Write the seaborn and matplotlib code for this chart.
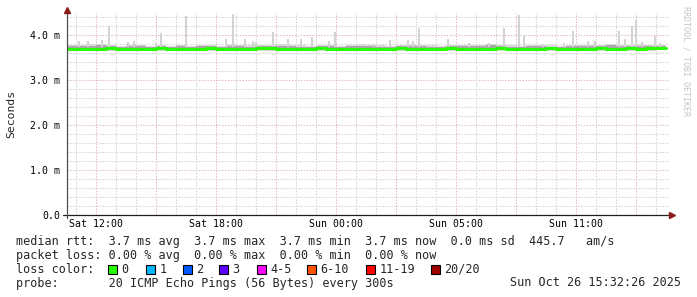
import numpy as np
import pandas as pd
import matplotlib
matplotlib.use("Agg")
import matplotlib.pyplot as plt
from matplotlib.patches import Rectangle
import seaborn as sns

# ---------------- data (hours relative to Sat 12:00) ----------------
step_hours = [-1.5 + 0.5 * i for i in range(61)]
median_ms = [3.70, 3.69, 3.68, 3.70, 3.71, 3.70, 3.69, 3.70, 3.70, 3.71,
             3.70, 3.69, 3.70, 3.70, 3.71, 3.70, 3.70, 3.69, 3.70, 3.71,
             3.71, 3.70, 3.69, 3.70, 3.70, 3.71, 3.70, 3.69, 3.70, 3.70,
             3.70, 3.69, 3.70, 3.71, 3.70, 3.70, 3.69, 3.70, 3.71, 3.70,
             3.69, 3.70, 3.70, 3.71, 3.70, 3.69, 3.70, 3.70, 3.71, 3.70,
             3.70, 3.69, 3.70, 3.71, 3.70, 3.70, 3.71, 3.70, 3.71, 3.71, 3.71]
smoke_lo = [3.65, 3.64, 3.64, 3.65, 3.65, 3.64, 3.65, 3.65, 3.64, 3.65,
            3.65, 3.64, 3.65, 3.65, 3.65, 3.64, 3.65, 3.64, 3.65, 3.65,
            3.65, 3.65, 3.64, 3.65, 3.65, 3.65, 3.64, 3.64, 3.65, 3.65,
            3.65, 3.64, 3.65, 3.65, 3.65, 3.65, 3.64, 3.65, 3.65, 3.65,
            3.64, 3.65, 3.65, 3.65, 3.65, 3.64, 3.65, 3.65, 3.65, 3.65,
            3.65, 3.64, 3.65, 3.65, 3.65, 3.65, 3.65, 3.65, 3.65, 3.66, 3.66]
smoke_hi = [3.77, 3.78, 3.79, 3.80, 3.78, 3.76, 3.77, 3.78, 3.76, 3.77,
            3.76, 3.77, 3.76, 3.78, 3.77, 3.76, 3.79, 3.78, 3.77, 3.78,
            3.77, 3.79, 3.78, 3.77, 3.76, 3.78, 3.77, 3.76, 3.77, 3.79,
            3.78, 3.77, 3.76, 3.77, 3.79, 3.78, 3.77, 3.76, 3.77, 3.78,
            3.78, 3.77, 3.80, 3.78, 3.77, 3.76, 3.77, 3.78, 3.77, 3.76,
            3.78, 3.77, 3.77, 3.78, 3.80, 3.78, 3.77, 3.79, 3.77, 3.78, 3.78]
smoke_mid = [3.75, 3.76, 3.76, 3.77, 3.75, 3.74, 3.75, 3.75, 3.74, 3.75,
             3.74, 3.75, 3.74, 3.76, 3.75, 3.74, 3.76, 3.75, 3.74, 3.75,
             3.75, 3.76, 3.75, 3.74, 3.74, 3.75, 3.75, 3.74, 3.75, 3.76,
             3.75, 3.74, 3.74, 3.75, 3.76, 3.75, 3.74, 3.74, 3.75, 3.76,
             3.75, 3.75, 3.77, 3.75, 3.74, 3.74, 3.75, 3.75, 3.74, 3.74,
             3.76, 3.75, 3.75, 3.75, 3.77, 3.76, 3.75, 3.76, 3.75, 3.75, 3.75]
spike_hours = [-0.85, -0.4, 0.3, 0.65, 1.6, 1.9, 3.0, 3.25, 4.5, 6.5,
               6.85, 7.45, 7.85, 8.0, 8.85, 9.6, 10.25, 10.8, 11.65, 11.95,
               13.9, 14.7, 15.6, 15.85, 16.15, 17.6, 18.65, 19.65, 20.4, 21.15,
               21.4, 22.35, 23.4, 23.85, 24.6, 24.95, 26.15, 26.45, 26.8, 27.0,
               27.3, 27.95, 28.2]
spike_top_ms = [3.87, 3.87, 3.90, 4.20, 3.84, 3.87, 3.83, 4.04, 4.42, 3.91,
                4.47, 3.91, 3.87, 3.84, 4.07, 3.91, 3.91, 3.96, 3.87, 4.06,
                3.80, 3.88, 3.90, 3.86, 4.16, 3.91, 3.83, 3.83, 4.16, 4.45,
                4.00, 3.80, 3.83, 4.09, 3.87, 3.87, 4.09, 3.91, 4.20, 4.33,
                3.84, 3.97, 3.83]

ytick_vals = [0.0, 1.0, 2.0, 3.0, 4.0]
ytick_labels = ["0.0", "1.0 m", "2.0 m", "3.0 m", "4.0 m"]
xtick_hours = [0, 6, 12, 18, 24]
xtick_labels = ["Sat 12:00", "Sat 18:00", "Sun 00:00", "Sun 05:00", "Sun 11:00"]

loss_labels = ["0", "1", "2", "3", "4-5", "6-10", "11-19", "20/20"]
loss_colors = ["#26ff00", "#00b8ff", "#0059ff", "#5e00ff", "#ff00ff",
               "#ff5500", "#ff0000", "#a00000"]

row_rtt = "median rtt:  3.7 ms avg  3.7 ms max  3.7 ms min  3.7 ms now  0.0 ms sd  445.7   am/s"
row_loss = "packet loss: 0.00 % avg  0.00 % max  0.00 % min  0.00 % now"
row_color = "loss color:"
row_probe = "probe:       20 ICMP Echo Pings (56 Bytes) every 300s"
date_text = "Sun Oct 26 15:32:26 2025"
watermark = "RRDTOOL / TOBI OETIKER"

# ---------------- figure ----------------
sns.set_theme(style="white")
plt.rcParams["font.family"] = ["DejaVu Sans Mono", "DejaVu Sans"]

W, H = 697, 297
fig = plt.figure(figsize=(W / 100, H / 100), dpi=100)
fig.patch.set_facecolor("white")
L, R, T, B = 67, 669, 13, 215
ax = fig.add_axes([L / W, 1 - B / H, (R - L) / W, (B - T) / H])
ax.set_facecolor("white")
ax.set_xlim(-1.45, 28.65)
ax.set_ylim(0, 4.49)
for s in ax.spines.values():
    s.set_visible(False)

# grid
minor_c = "#d2d2d2"
major_c = "#e2bcbc"
dots = (0, (1.4, 1.4))
for v in np.arange(0.2, 4.5, 0.2):
    if abs(v - round(v)) < 1e-6:
        continue
    ax.axhline(v, color=minor_c, lw=0.75, ls=dots, zorder=0)
for v in [1.0, 2.0, 3.0, 4.0]:
    ax.axhline(v, color=major_c, lw=0.75, ls=dots, zorder=0)
for h in range(-1, 29):
    ax.axvline(h, color=major_c if h % 3 == 0 else minor_c, lw=0.75, ls=dots, zorder=0)

df = pd.DataFrame({"t": step_hours, "median": median_ms, "lo": smoke_lo,
                   "hi": smoke_hi, "mid": smoke_mid})

# smoke
ax.fill_between(df["t"], df["lo"], df["hi"], step="post", color="#dadada", lw=0, zorder=1)
ax.fill_between(df["t"], df["median"] - 0.02, df["mid"], step="post", color="#a9a9a9", lw=0, zorder=1)
ax.bar(spike_hours, [t - 3.74 for t in spike_top_ms], bottom=3.74, width=0.1,
       color="#d3d3d3", lw=0, align="center", zorder=1)

# median line
sns.lineplot(data=df, x="t", y="median", ax=ax, color="#26ff00", lw=2.2,
             drawstyle="steps-post", estimator=None, zorder=3)
ax.set_xlabel("")
ax.set_ylabel("")

# ticks
ax.set_yticks(ytick_vals, ytick_labels)
ax.set_xticks(xtick_hours, xtick_labels)
ax.tick_params(axis="y", length=0, pad=5.0, labelsize=7.1, labelcolor="#000000")
ax.tick_params(axis="x", length=0, pad=3.0, labelsize=7.1, labelcolor="#000000")

# axes lines and arrows (pixel based)
def fx(px):
    return px / W
def fy(py):
    return 1 - py / H
fig.add_artist(plt.Line2D([fx(63), fx(671)], [fy(215), fy(215)], color="#202020", lw=0.9))
fig.add_artist(plt.Line2D([fx(67), fx(67)], [fy(218), fy(11)], color="#505050", lw=0.9))
fig.add_artist(plt.Line2D([fx(672)], [fy(215)], marker=">", color="#8b1a1a", ms=4.5, lw=0))
fig.add_artist(plt.Line2D([fx(67)], [fy(10)], marker="^", color="#8b1a1a", ms=4.5, lw=0))

# labels
fig.text(fx(11), fy(114), "Seconds", rotation=90, ha="center", va="center", fontsize=8.2)
fig.text(fx(686), fy(6), watermark, rotation=-90, ha="center", va="top",
         fontsize=6.0, color="#c4c4c4")

fs = 8.5
fig.text(fx(16), fy(241.5), row_rtt, ha="left", va="center", fontsize=fs)
fig.text(fx(16), fy(255.5), row_loss, ha="left", va="center", fontsize=fs)
fig.text(fx(16), fy(269.5), row_color, ha="left", va="center", fontsize=fs)
fig.text(fx(16), fy(283), row_probe, ha="left", va="center", fontsize=fs)
fig.text(fx(681), fy(283), date_text, ha="right", va="center", fontsize=fs)

sq_left = [108, 146, 183, 219, 257, 307, 366, 431]
for xl, lab, col in zip(sq_left, loss_labels, loss_colors):
    fig.add_artist(Rectangle((fx(xl), fy(274)), 9 / W, 9 / H, facecolor=col,
                             edgecolor="black", lw=0.8, transform=fig.transFigure))
    fig.text(fx(xl + 13.5), fy(269.5), lab, ha="left", va="center", fontsize=fs)

fig.savefig("out.png", dpi=100, facecolor="white")
